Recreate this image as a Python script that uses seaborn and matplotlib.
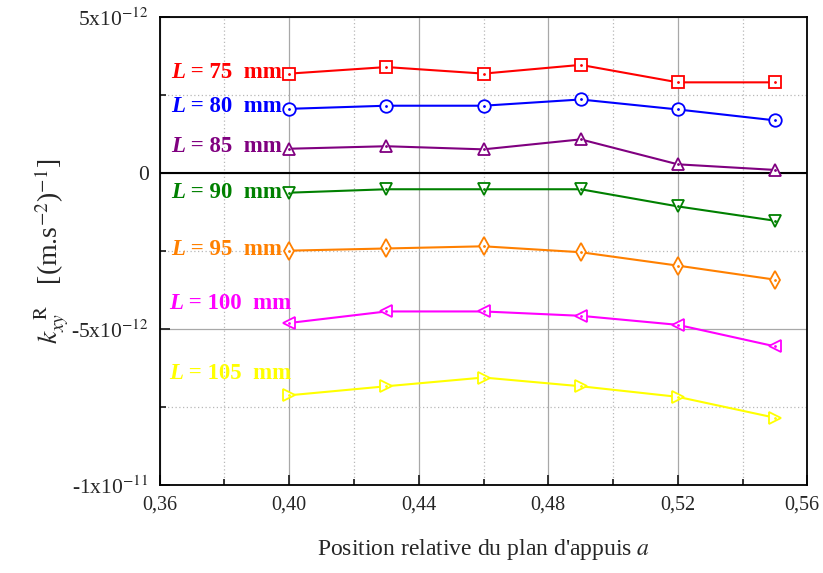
import matplotlib
matplotlib.use("Agg")
import matplotlib.pyplot as plt
import matplotlib.ticker as mticker
import matplotlib.transforms as mtransforms
import seaborn as sns
import numpy as np

# relative position of the support plane
positions = [0.40, 0.43, 0.46, 0.49, 0.52, 0.55]

# k_xy^R values, in units of 1e-12 (m.s^-2)^-1
k_L75 = [3.19, 3.40, 3.19, 3.47, 2.91, 2.91]
k_L80 = [2.06, 2.16, 2.16, 2.36, 2.04, 1.69]
k_L85 = [0.78, 0.86, 0.76, 1.08, 0.28, 0.10]
k_L90 = [-0.63, -0.52, -0.52, -0.52, -1.07, -1.53]
k_L95 = [-2.49, -2.42, -2.35, -2.54, -2.97, -3.42]
k_L100 = [-4.81, -4.44, -4.44, -4.58, -4.87, -5.56]
k_L105 = [-7.13, -6.84, -6.56, -6.84, -7.18, -7.85]

lengths = ["75", "80", "85", "90", "95", "100", "105"]
series = [k_L75, k_L80, k_L85, k_L90, k_L95, k_L100, k_L105]

y_ticks = [5e-12, 0, -5e-12, -1e-11]
y_ticklabels = ["5x10$^{-12}$", "0", "-5x10$^{-12}$", "-1x10$^{-11}$"]
x_ticks = [0.36, 0.40, 0.44, 0.48, 0.52, 0.56]
x_ticklabels = ["0,36", "0,40", "0,44", "0,48", "0,52", "0,56"]

colors = ["#ff0000", "#0000ff", "#800080", "#008000", "#ff8000", "#ff00ff", "#ffff00"]
markers = ["s", "o", "^", "v", "d", "<", ">"]
# label anchor (left edge x, y in 1e-12)
label_pos = [(0.3635, 3.23), (0.3635, 2.14), (0.3635, 0.86), (0.3635, -0.62),
             (0.3635, -2.44), (0.3630, -4.2), (0.3630, -6.43)]

sns.set_style("white")
plt.rcParams["font.family"] = ["Liberation Serif", "DejaVu Serif"]
plt.rcParams["mathtext.fontset"] = "stix"

fig = plt.figure(figsize=(8.23, 5.73), dpi=100)
ax = fig.add_axes([0.194, 0.154, 0.787, 0.816])

for vals, c, m in zip(series, colors, markers):
    y = np.array(vals) * 1e-12
    sns.lineplot(x=positions, y=y, ax=ax, color=c, lw=1.5, marker=m,
                 markersize=9, markerfacecolor="white", markeredgecolor=c,
                 markeredgewidth=1.3, zorder=3)
    ax.plot(positions, y, ls="none", marker=".", markersize=2, color=c, zorder=4)

for (lx, ly), L, c in zip(label_pos, lengths, colors):
    t = ax.text(lx, ly * 1e-12, "L", color=c, fontsize=16.5, fontweight="bold",
                fontstyle="italic", ha="left", va="center")
    ax.annotate(" = " + L + "  mm", xy=(1, 0.5), xycoords=t, color=c,
                fontsize=16.5, fontweight="bold", ha="left", va="center")

ax.axhline(0, color="black", lw=1.5, zorder=2)

ax.set_xlim(0.36, 0.56)
ax.set_ylim(-1e-11, 5e-12)
ax.set_xticks(x_ticks)
ax.set_xticklabels(x_ticklabels)
ax.xaxis.set_minor_locator(mticker.MultipleLocator(0.02))
ax.set_yticks(y_ticks)
ax.set_yticklabels(y_ticklabels)
ax.yaxis.set_minor_locator(mticker.MultipleLocator(2.5e-12))

ax.grid(True, which="major", color="#a8a8a8", lw=0.9, ls="-")
ax.grid(True, which="minor", color="#b8b8b8", lw=0.9, ls=(0, (1, 2)))
ax.set_axisbelow(True)

ax.tick_params(which="both", direction="in", bottom=True, left=True,
               top=False, right=False, width=1.3)
ax.tick_params(axis="y", labelsize=15.5)
ax.tick_params(axis="x", labelsize=14.5)
ax.tick_params(which="major", length=7, pad=8)
ax.tick_params(which="minor", length=4)
for s in ax.spines.values():
    s.set_color("black")
    s.set_linewidth(1.3)

# nudge the last x label so it stays inside the figure
last = ax.get_xticklabels()[-1]
last.set_transform(last.get_transform() + mtransforms.ScaledTranslation(-4 / 72, 0, fig.dpi_scale_trans))

ax.set_xlabel("Position relative du plan d'appuis $\\mathit{a}$", fontsize=17, labelpad=16)
ax.set_ylabel("$k_{xy}^{\\ \\ \\mathrm{R}}$   [(m.s$^{-2}$)$^{-1}$]", fontsize=20, labelpad=0)

fig.savefig("out.png", dpi=100)
